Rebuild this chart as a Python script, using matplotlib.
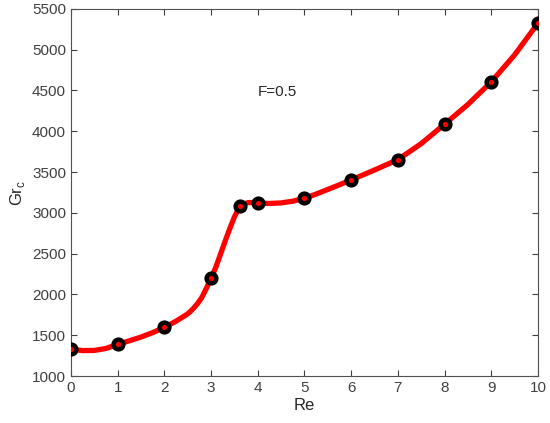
import matplotlib
matplotlib.use("Agg")
import matplotlib.pyplot as plt

plt.rcParams['font.family'] = ['Liberation Sans', 'DejaVu Sans']

# computed points (markers)
re_pts = [0, 1, 2, 3, 3.62, 4, 5, 6, 7, 8, 9, 10]
gr_pts = [1330, 1389, 1597, 2198, 3078, 3121, 3178, 3403, 3652, 4086, 4605, 5324]

# smooth fitted curve
re_curve = [0, 0.25, 0.5, 0.75, 1, 1.25, 1.5, 1.75, 2, 2.25, 2.5, 2.6, 2.7, 2.8, 2.9, 3,
            3.1, 3.2, 3.3, 3.4, 3.5, 3.6, 3.7, 3.8, 3.9, 4, 4.25, 4.5, 4.75,
            5, 5.25, 5.5, 5.75, 6, 6.5, 7, 7.5, 8, 8.5, 9, 9.5, 10]
gr_curve = [1330, 1312, 1314, 1338, 1389, 1432, 1478, 1532, 1597, 1672, 1762, 1815, 1880, 1960, 2075, 2198,
            2330, 2490, 2650, 2805, 2950, 3060, 3110, 3126, 3127, 3121, 3115, 3122, 3143,
            3178, 3230, 3287, 3344, 3403, 3525, 3652, 3848, 4086, 4328, 4605, 4935, 5324]

fig = plt.figure(figsize=(5.5, 4.23), dpi=100)
ax = fig.add_axes([0.129, 0.111, 0.849, 0.868])

ax.plot(re_curve, gr_curve, color='red', lw=3.8, solid_capstyle='round',
        solid_joinstyle='round', zorder=2)
ax.plot(re_pts, gr_pts, ls='none', marker='o', ms=7, mew=3.2,
        mec='black', mfc='red', zorder=3)

ax.text(4.0, 4480, 'F=0.5', fontsize=11, ha='left', va='center', color='#262626')

ax.set_xlim(0, 10)
ax.set_ylim(1000, 5500)
ax.set_xticks(range(0, 11))
ax.set_yticks(range(1000, 5501, 500))
ax.tick_params(direction='in', top=True, right=True, labelsize=11,
               colors='#404040', length=4, width=0.8)
for s in ax.spines.values():
    s.set_color('#505050')
    s.set_linewidth(0.8)

ax.set_xlabel('Re', fontsize=12, color='#262626', labelpad=2)
ax.set_ylabel(r'Gr$_\mathregular{c}$', fontsize=12, color='#262626')

fig.savefig('out.png', dpi=100)
